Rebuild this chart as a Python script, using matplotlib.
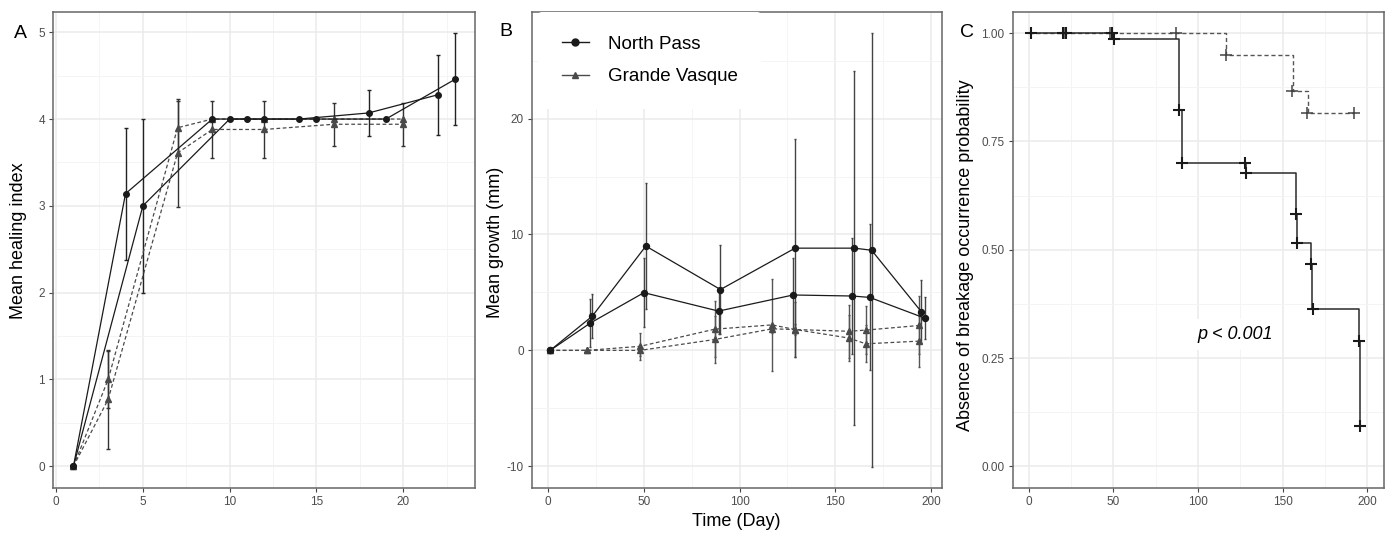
import numpy as np
import matplotlib
matplotlib.use('Agg')
import matplotlib.pyplot as plt
from matplotlib.lines import Line2D
from matplotlib.ticker import MultipleLocator, AutoMinorLocator

plt.rcParams['font.family'] = ['Liberation Sans', 'DejaVu Sans']
plt.rcParams['axes.unicode_minus'] = False

# ---------------- Datos panel A (indice de cicatrizacion) ----------------
dias_a1 = [1, 4, 9, 11, 14, 18, 22]
indice_a1 = [0, 3.14, 4.0, 4.0, 4.0, 4.07, 4.28]
sd_a1 = [0, 0.76, 0, 0, 0, 0.27, 0.46]

dias_a2 = [1, 5, 10, 12, 15, 19, 23]
indice_a2 = [0, 3.0, 4.0, 4.0, 4.0, 4.0, 4.46]
sd_a2 = [0, 1.0, 0, 0, 0, 0, 0.53]

dias_a3 = [1, 3, 7, 9, 12, 16, 20]
indice_a3 = [0, 1.0, 3.9, 4.0, 4.0, 4.0, 4.0]
sd_a3 = [0, 0.33, 0.31, 0, 0, 0, 0]

dias_a4 = [1, 3, 7, 9, 12, 16, 20]
indice_a4 = [0, 0.77, 3.61, 3.88, 3.88, 3.94, 3.94]
sd_a4 = [0, 0.57, 0.62, 0.33, 0.33, 0.25, 0.25]

# ---------------- Datos panel B (crecimiento) ----------------
dias_np1 = [1, 23, 51, 90, 129, 160, 169, 195]
crec_np1 = [0, 2.95, 9.0, 5.25, 8.82, 8.82, 8.64, 3.33]
sd_np1 = [0, 1.9, 5.4, 3.8, 9.4, 15.3, 18.7, 2.7]

dias_np2 = [1, 22, 50, 89, 128, 159, 168, 197]
crec_np2 = [0, 2.36, 4.98, 3.39, 4.78, 4.69, 4.57, 2.77]
sd_np2 = [0, 2.1, 3.0, 2.0, 3.2, 5.0, 6.3, 1.8]

dias_gv = [1, 20, 48, 87, 117, 129, 157, 166, 194]
crec_gv1 = [0, 0, 0.35, 1.83, 2.2, 1.8, 1.65, 1.75, 2.15]
sd_gv1 = [0, 0, 1.15, 2.4, 4.0, 2.4, 2.3, 2.1, 2.5]
crec_gv2 = [0, 0, 0, 0.94, 1.86, 1.8, 1.07, 0.57, 0.8]
sd_gv2 = [0, 0, 0.5, 2.0, 0.4, 0.5, 2.0, 1.6, 2.2]

# ---------------- Datos panel C (Kaplan-Meier) ----------------
t_np = [0, 50.3, 89.0, 90.3, 128.1, 157.9, 158.6, 166.8, 167.6, 195.3, 195.8]
s_np = [1.0, 0.986, 0.822, 0.701, 0.676, 0.583, 0.515, 0.466, 0.362, 0.29, 0.094]
cens_t_np = [1, 20, 22, 49, 50.5, 89.0, 90.3, 127.7, 128.5, 157.9, 158.6, 166.8, 167.8, 195.3, 195.8]
cens_s_np = [1, 1, 1, 1, 0.986, 0.822, 0.701, 0.701, 0.676, 0.583, 0.515, 0.466, 0.362, 0.29, 0.094]

t_gv = [0, 116.6, 156.4, 165.2, 192.5]
s_gv = [1.0, 0.949, 0.866, 0.815, 0.815]
cens_t_gv = [1, 21, 48, 87, 116.6, 155.6, 164.6, 192.5]
cens_s_gv = [1, 1, 1, 1, 0.949, 0.866, 0.815, 0.815]

NEGRO = '#1a1a1a'
GRIS = '#4a4a4a'
DISCONT = (0, (3, 2))


def estilo(ax):
    # aspecto tipo theme_bw
    for sp in ax.spines.values():
        sp.set_color('#666666')
        sp.set_linewidth(1.1)
    ax.xaxis.set_minor_locator(AutoMinorLocator(2))
    ax.yaxis.set_minor_locator(AutoMinorLocator(2))
    ax.grid(which='major', color='#EBEBEB', lw=1.1)
    ax.grid(which='minor', color='#F4F4F4', lw=0.7)
    ax.set_axisbelow(True)
    ax.tick_params(which='major', length=3, width=0.8, color='#444444',
                   labelsize=8.5, labelcolor='#4D4D4D', pad=3)
    ax.tick_params(which='minor', length=0)


def barras(ax, x, y, sd, color, lw=1.0, cap=1.5):
    x = np.array(x, float)
    y = np.array(y, float)
    sd = np.array(sd, float)
    m = sd > 0
    ax.errorbar(x[m], y[m], yerr=sd[m], fmt='none', ecolor=color,
                elinewidth=lw, capsize=cap, capthick=lw, zorder=2)


fig = plt.figure(figsize=(13.89, 5.36), dpi=100)
ax_a = fig.add_axes([0.0385, 0.0896, 0.3037, 0.8875])
ax_b = fig.add_axes([0.3830, 0.0896, 0.2952, 0.8875])
ax_c = fig.add_axes([0.7291, 0.0896, 0.2673, 0.8875])

############## PANEL A #############
estilo(ax_a)
for d, v, s in ((dias_a3, indice_a3, sd_a3), (dias_a4, indice_a4, sd_a4)):
    barras(ax_a, d, v, s, '#333333', 1.0, 1.5)
    ax_a.plot(d, v, color=GRIS, lw=0.9, linestyle=DISCONT, marker='^',
              ms=4, zorder=3)
for d, v, s in ((dias_a1, indice_a1, sd_a1), (dias_a2, indice_a2, sd_a2)):
    barras(ax_a, d, v, s, '#222222', 1.0, 1.5)
    ax_a.plot(d, v, color=NEGRO, lw=0.9, marker='o', ms=4, zorder=4)
ax_a.set_xlim(-0.15, 24.15)
ax_a.set_ylim(-0.25, 5.23)
ax_a.xaxis.set_major_locator(MultipleLocator(5))
ax_a.yaxis.set_major_locator(MultipleLocator(1))

############## PANEL B #############
estilo(ax_b)
for v, s in ((crec_gv1, sd_gv1), (crec_gv2, sd_gv2)):
    barras(ax_b, dias_gv, v, s, '#555555', 1.0, 1.0)
    ax_b.plot(dias_gv, v, color=GRIS, lw=0.9, linestyle=DISCONT, marker='^',
              ms=4, zorder=3)
for d, v, s in ((dias_np1, crec_np1, sd_np1), (dias_np2, crec_np2, sd_np2)):
    barras(ax_b, d, v, s, '#444444', 1.0, 1.0)
    ax_b.plot(d, v, color=NEGRO, lw=0.9, marker='o', ms=4.3, zorder=4)
ax_b.set_xlim(-8.5, 205.8)
ax_b.set_ylim(-11.87, 29.17)
ax_b.xaxis.set_major_locator(MultipleLocator(50))
ax_b.yaxis.set_major_locator(MultipleLocator(10))

leyenda = [Line2D([], [], color=NEGRO, lw=1.0, marker='o', ms=5),
           Line2D([], [], color=GRIS, lw=1.0, marker='^', ms=5)]
ax_b.legend(leyenda, ['North Pass', 'Grande Vasque'], loc='upper left',
            bbox_to_anchor=(0.015, 1.0), fontsize=13.5, frameon=True,
            facecolor='white', edgecolor='none', framealpha=1,
            handlelength=1.45, handletextpad=1.0, borderpad=1.25,
            labelspacing=0.82, borderaxespad=0)

############## PANEL C #############
estilo(ax_c)
ax_c.step(t_gv, s_gv, where='post', color='#555555', lw=1.0, linestyle=DISCONT)
ax_c.plot(cens_t_gv, cens_s_gv, '+', color='#444444', ms=8, mew=1.1)
ax_c.step(t_np, s_np, where='post', color='#2a2a2a', lw=1.1)
ax_c.plot(cens_t_np, cens_s_np, '+', color=NEGRO, ms=8, mew=1.5)
ax_c.set_xlim(-9.6, 210)
ax_c.set_ylim(-0.05, 1.048)
ax_c.xaxis.set_major_locator(MultipleLocator(50))
ax_c.yaxis.set_major_locator(MultipleLocator(0.25))
ax_c.yaxis.set_major_formatter('{x:.2f}')
ax_c.text(121.9, 0.305, 'p < 0.001', fontsize=13, style='italic',
          ha='center', va='center',
          bbox=dict(facecolor='white', edgecolor='none', pad=5))

############## TEXTOS #############
fig.text(19 / 1389, 1 - 241 / 536, 'Mean healing index', rotation=90,
         fontsize=13, ha='center', va='center')
fig.text(495 / 1389, 1 - 242 / 536, 'Mean growth (mm)', rotation=90,
         fontsize=13, ha='center', va='center')
fig.text(965 / 1389, 1 - 255 / 536, 'Absence of breakage occurrence probability',
         rotation=90, fontsize=13, ha='center', va='center')
fig.text(736 / 1389, 1 - 522 / 536, 'Time (Day)', fontsize=13,
         ha='center', va='center')

fig.text(20.7 / 1389, 1 - 33 / 536, 'A', fontsize=14, ha='center', va='center')
fig.text(506 / 1389, 1 - 31 / 536, 'B', fontsize=14, ha='center', va='center')
fig.text(966.7 / 1389, 1 - 32.5 / 536, 'C', fontsize=14, ha='center', va='center')

fig.savefig('out.png', dpi=100)
